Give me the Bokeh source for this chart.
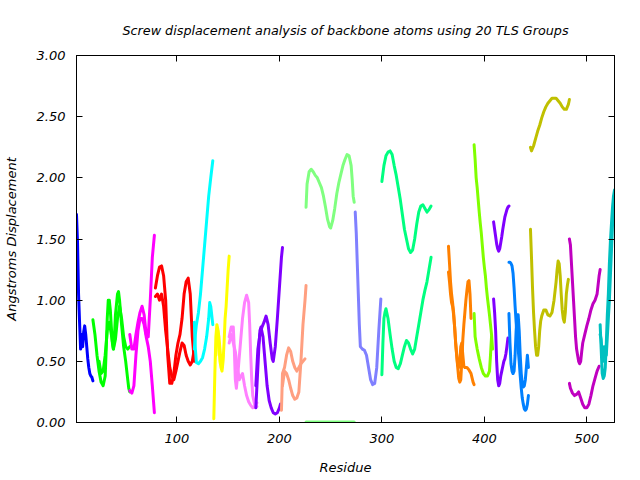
from bokeh.plotting import figure
from bokeh.models import Range1d, FixedTicker, PrintfTickFormatter, LinearAxis
from bokeh.embed import file_html
from bokeh.resources import INLINE

title_text = "Screw displacement analysis of backbone atoms using 20 TLS Groups"
x_label = "Residue"
y_label = "Angstroms Displacement"
x_ticks = [100, 200, 300, 400, 500]
y_ticks = [0.0, 0.5, 1.0, 1.5, 2.0, 2.5, 3.0]

# group 1 (blue)
g1_res = [2, 3, 4, 5, 6, 7, 8, 9, 10, 11, 12, 13, 14, 15, 16, 17, 18]
g1_val = [1.70, 1.47, 1.05, 0.82, 0.60, 0.72, 0.62, 0.74, 0.79, 0.72, 0.62, 0.52, 0.45, 0.40, 0.38, 0.37, 0.34]
# group 2 (green)
g2a_res = [18, 20, 22, 24, 26, 28, 30, 31, 32, 33, 34, 35, 36, 37, 38, 39, 40, 42, 43, 44, 46, 48, 50, 52, 53, 54]
g2a_val = [0.84, 0.72, 0.55, 0.42, 0.33, 0.30, 0.38, 0.60, 0.85, 1.00, 1.00, 0.92, 0.78, 0.65, 0.60, 0.70, 0.88, 1.05, 1.07, 1.00, 0.80, 0.62, 0.50, 0.35, 0.28, 0.25]
g2b_res = [24, 26, 28, 30, 32, 34, 36, 38, 40, 42, 44, 46, 48, 50, 52, 54]
g2b_val = [0.50, 0.40, 0.42, 0.55, 0.75, 0.82, 0.72, 0.60, 0.68, 0.85, 0.95, 0.85, 0.70, 0.62, 0.60, 0.62]
# group 3 (magenta)
g3a_res = [54, 56, 58, 60, 62, 64, 66, 68, 70, 72, 74, 76, 78]
g3a_val = [0.72, 0.60, 0.60, 0.72, 0.82, 0.90, 0.95, 0.88, 0.72, 0.70, 1.00, 1.35, 1.53]
g3b_res = [54, 56, 58, 60, 62, 64, 66, 68, 70, 72, 74, 76, 78]
g3b_val = [0.26, 0.24, 0.30, 0.55, 0.75, 0.85, 0.85, 0.80, 0.70, 0.62, 0.50, 0.30, 0.08]
# group 4 (red)
g4a_res = [79, 81, 83, 85, 87, 89, 91, 93, 95, 97, 99, 101, 103, 105, 107, 109, 111, 113, 115, 117]
g4a_val = [1.10, 1.20, 1.27, 1.28, 1.20, 1.00, 0.55, 0.32, 0.32, 0.40, 0.55, 0.65, 0.72, 0.85, 1.05, 1.15, 1.18, 1.05, 0.70, 0.50]
g4b_res = [79, 81, 83, 85, 87, 89, 91, 93, 95, 97, 99, 101, 103, 105, 107, 109, 111, 113, 115, 117]
g4b_val = [1.03, 1.05, 1.00, 1.05, 0.95, 0.75, 0.60, 0.45, 0.38, 0.35, 0.42, 0.50, 0.58, 0.65, 0.63, 0.55, 0.50, 0.47, 0.50, 0.60]
# group 5 (cyan)
g5a_res = [117, 118, 119, 121, 123, 125, 127, 129, 131, 132, 133, 135]
g5a_val = [0.82, 0.60, 0.49, 0.48, 0.50, 0.53, 0.60, 0.70, 0.85, 0.98, 0.95, 0.80]
g5b_res = [117, 118, 119, 121, 123, 125, 127, 129, 131, 133, 135]
g5b_val = [0.60, 0.72, 0.80, 0.90, 1.05, 1.25, 1.45, 1.65, 1.85, 2.00, 2.14]
# group 6 (yellow)
g6a_res = [136, 137, 138, 139, 140, 141, 142, 143, 144, 145, 146, 147, 148, 149, 150, 151]
g6a_val = [0.03, 0.40, 0.70, 0.80, 0.76, 0.62, 0.50, 0.45, 0.42, 0.50, 0.65, 0.85, 0.95, 1.10, 1.25, 1.36]
g6b_res = [138, 139, 140, 141, 142, 143, 144, 145]
g6b_val = [0.55, 0.70, 0.75, 0.70, 0.60, 0.50, 0.45, 0.55]
# group 7 (pink)
g7a_res = [151, 153, 155, 156, 157, 158, 160, 162, 164, 166, 168, 170, 171, 172, 173, 174, 176, 178]
g7a_val = [0.70, 0.78, 0.78, 0.60, 0.35, 0.28, 0.45, 0.65, 0.85, 0.98, 1.04, 0.98, 0.80, 0.55, 0.35, 0.22, 0.14, 0.13]
g7b_res = [151, 153, 155, 157, 159, 161, 162, 164, 166, 168, 170, 172, 174, 176, 178]
g7b_val = [0.65, 0.72, 0.65, 0.58, 0.45, 0.35, 0.37, 0.40, 0.30, 0.22, 0.17, 0.14, 0.12, 0.13, 0.16]
# group 8 (violet)
g8a_res = [177, 179, 180, 181, 182, 184, 186, 188, 190, 192, 194, 196, 198, 200, 201]
g8a_val = [0.12, 0.45, 0.62, 0.75, 0.78, 0.70, 0.50, 0.30, 0.18, 0.12, 0.08, 0.07, 0.08, 0.12, 0.15]
g8b_res = [177, 179, 181, 183, 185, 187, 189, 191, 193, 194, 196, 198, 200, 202, 203]
g8b_val = [0.30, 0.60, 0.72, 0.78, 0.82, 0.87, 0.80, 0.65, 0.52, 0.50, 0.62, 0.85, 1.10, 1.35, 1.43]
# group 9 (salmon)
g9a_res = [202, 203, 205, 207, 209, 211, 213, 215, 217, 219, 221, 223, 225]
g9a_val = [0.10, 0.40, 0.45, 0.55, 0.61, 0.58, 0.50, 0.45, 0.42, 0.45, 0.48, 0.50, 0.52]
g9b_res = [203, 205, 207, 209, 211, 213, 215, 217, 219, 221, 223, 225, 226]
g9b_val = [0.30, 0.42, 0.40, 0.35, 0.28, 0.22, 0.19, 0.20, 0.25, 0.50, 0.80, 1.00, 1.12]
# group 10 (light green)
g10a_res = [226, 227, 229, 231, 233, 235, 237, 239, 241, 243, 245, 247, 249, 250, 252, 254, 256, 258, 260, 262, 264, 266, 268, 270, 271, 272, 273]
g10a_val = [1.76, 1.95, 2.05, 2.07, 2.05, 2.02, 2.00, 1.96, 1.92, 1.85, 1.76, 1.66, 1.60, 1.59, 1.65, 1.75, 1.87, 1.96, 2.03, 2.10, 2.15, 2.19, 2.18, 2.10, 1.99, 1.85, 1.80]
g10b_res = [226, 235, 245, 255, 265, 273]
g10b_val = [0.005, 0.005, 0.005, 0.005, 0.005, 0.005]
# group 11 (periwinkle)
g11_res = [274, 275, 276, 277, 278, 279, 281, 283, 285, 287, 289, 291, 293, 295, 297, 299]
g11_val = [1.72, 1.55, 1.30, 1.05, 0.80, 0.62, 0.60, 0.59, 0.55, 0.45, 0.35, 0.31, 0.32, 0.45, 0.75, 1.01]
# group 12 (spring green)
g12a_res = [300, 302, 304, 306, 308, 310, 312, 314, 316, 318, 320, 322, 324, 326, 328, 330, 332, 334, 336, 338, 340, 342, 344, 346, 348]
g12a_val = [1.97, 2.10, 2.18, 2.21, 2.22, 2.19, 2.10, 2.02, 1.92, 1.82, 1.70, 1.58, 1.50, 1.42, 1.39, 1.41, 1.50, 1.62, 1.72, 1.77, 1.78, 1.75, 1.72, 1.74, 1.77]
g12b_res = [300, 301, 302, 303, 304, 306, 308, 310, 312, 314, 316, 318, 320, 322, 324, 326, 328, 330, 332, 334, 336, 338, 340, 342, 344, 346, 348]
g12b_val = [0.39, 0.65, 0.85, 0.90, 0.93, 0.85, 0.72, 0.60, 0.50, 0.45, 0.44, 0.48, 0.55, 0.62, 0.67, 0.65, 0.60, 0.56, 0.60, 0.70, 0.80, 0.90, 1.00, 1.08, 1.15, 1.25, 1.35]
# group 13 (orange)
g13a_res = [365, 366, 367, 368, 369, 370, 371, 372, 373, 374, 375, 376, 377, 378, 379, 380, 381, 382, 383, 384, 385, 386, 387]
g13a_val = [1.44, 1.30, 1.15, 1.05, 0.98, 0.90, 0.78, 0.65, 0.55, 0.45, 0.36, 0.33, 0.35, 0.50, 0.68, 0.80, 0.90, 1.00, 1.08, 1.15, 1.16, 1.05, 0.85]
g13b_res = [365, 366, 367, 368, 369, 370, 371, 372, 373, 374, 375, 376, 377, 378, 379, 380, 381, 383, 385, 387, 389, 390]
g13b_val = [1.23, 1.15, 1.05, 0.98, 0.95, 0.88, 0.78, 0.65, 0.55, 0.47, 0.45, 0.50, 0.62, 0.65, 0.55, 0.46, 0.45, 0.45, 0.43, 0.40, 0.33, 0.31]
# group 14 (chartreuse)
g14a_res = [390, 391, 392, 393, 394, 395, 396, 397, 398, 399, 400, 401, 402, 403, 404, 405, 406, 407, 408]
g14a_val = [2.27, 2.15, 2.00, 1.92, 1.82, 1.72, 1.63, 1.55, 1.45, 1.35, 1.27, 1.20, 1.10, 1.02, 0.95, 0.88, 0.80, 0.72, 0.60]
g14b_res = [390, 391, 392, 393, 395, 397, 399, 401, 403, 405, 406, 407]
g14b_val = [0.89, 0.70, 0.65, 0.60, 0.52, 0.45, 0.40, 0.38, 0.38, 0.42, 0.55, 0.70]
# group 15 (violet 2)
g15a_res = [409, 410, 411, 412, 413, 414, 415, 416, 417, 418, 419, 420, 421, 422, 423, 424]
g15a_val = [1.64, 1.58, 1.52, 1.46, 1.42, 1.40, 1.42, 1.47, 1.52, 1.58, 1.63, 1.68, 1.71, 1.74, 1.76, 1.77]
g15b_res = [409, 410, 411, 412, 413, 414, 415, 416, 417, 418, 419, 420, 421, 422, 423]
g15b_val = [1.01, 0.90, 0.75, 0.50, 0.35, 0.30, 0.32, 0.38, 0.42, 0.46, 0.50, 0.52, 0.56, 0.62, 0.69]
# group 16 (azure)
g16a_res = [424, 425, 426, 427, 428, 429, 430, 431, 432, 433, 434, 435, 436, 437, 438, 439, 440, 441, 442, 443]
g16a_val = [1.31, 1.31, 1.30, 1.28, 1.22, 1.10, 0.95, 0.82, 0.70, 0.60, 0.50, 0.38, 0.28, 0.20, 0.15, 0.11, 0.10, 0.11, 0.15, 0.22]
g16b_res = [424, 425, 426, 427, 428, 429, 430, 431, 432, 433, 434, 435, 436, 437, 438, 439, 440, 441, 442, 443]
g16b_val = [0.89, 0.65, 0.48, 0.42, 0.40, 0.42, 0.55, 0.75, 0.88, 0.88, 0.75, 0.55, 0.40, 0.32, 0.29, 0.30, 0.35, 0.45, 0.55, 0.45]
# group 17 (olive)
g17a_res = [445, 446, 448, 450, 452, 454, 456, 458, 460, 462, 464, 466, 468, 470, 472, 474, 476, 478, 480, 482, 483]
g17a_val = [2.25, 2.22, 2.26, 2.32, 2.38, 2.43, 2.49, 2.54, 2.58, 2.61, 2.63, 2.65, 2.65, 2.65, 2.63, 2.61, 2.58, 2.56, 2.56, 2.60, 2.64]
g17b_res = [445, 446, 447, 448, 449, 450, 451, 452, 453, 454, 455, 456, 458, 460, 462, 464, 466, 468, 470, 471, 472, 473, 474, 475, 476, 477, 478, 479, 480, 481, 482]
g17b_val = [1.58, 1.35, 1.10, 0.90, 0.75, 0.62, 0.55, 0.55, 0.62, 0.75, 0.83, 0.87, 0.92, 0.92, 0.88, 0.87, 0.90, 1.00, 1.15, 1.25, 1.32, 1.30, 1.20, 1.05, 0.92, 0.85, 0.82, 0.90, 1.05, 1.12, 1.17]
# group 18 (purple)
g18a_res = [483, 484, 485, 486, 487, 488, 489, 490, 491, 492, 493, 494, 495, 496, 498, 500, 502, 504, 506, 508, 510, 512, 513]
g18a_val = [1.50, 1.45, 1.30, 1.15, 1.00, 0.85, 0.70, 0.60, 0.55, 0.50, 0.48, 0.50, 0.58, 0.65, 0.72, 0.79, 0.85, 0.92, 0.97, 1.00, 1.05, 1.20, 1.25]
g18b_res = [483, 484, 486, 488, 490, 492, 494, 496, 498, 500, 502, 504, 506, 508, 510, 512]
g18b_val = [0.32, 0.28, 0.24, 0.22, 0.23, 0.25, 0.20, 0.15, 0.12, 0.12, 0.15, 0.22, 0.30, 0.36, 0.42, 0.46]
# group 19 (teal)
g19a_res = [513, 514, 515, 516, 517, 518, 519, 520, 521, 522, 523, 524, 525, 526, 527]
g19a_val = [0.80, 0.60, 0.40, 0.36, 0.38, 0.45, 0.65, 0.88, 1.05, 1.30, 1.48, 1.62, 1.75, 1.85, 1.90]
g19b_res = [513, 514, 515, 516, 517, 518, 519, 520, 521, 522, 523, 524, 525, 526]
g19b_val = [0.72, 0.68, 0.55, 0.50, 0.62, 0.60, 0.55, 0.70, 0.85, 1.00, 1.20, 1.40, 1.60, 1.80]

series = [
    ("#0000ff", g1_res, g1_val),
    ("#00ff00", g2a_res, g2a_val), ("#00ff00", g2b_res, g2b_val),
    ("#ff00ff", g3a_res, g3a_val), ("#ff00ff", g3b_res, g3b_val),
    ("#ff0000", g4a_res, g4a_val), ("#ff0000", g4b_res, g4b_val),
    ("#00ffff", g5a_res, g5a_val), ("#00ffff", g5b_res, g5b_val),
    ("#ffff00", g6a_res, g6a_val), ("#ffff00", g6b_res, g6b_val),
    ("#ff80ff", g7a_res, g7a_val), ("#ff80ff", g7b_res, g7b_val),
    ("#8000ff", g8a_res, g8a_val), ("#8000ff", g8b_res, g8b_val),
    ("#ff9f80", g9a_res, g9a_val), ("#ff9f80", g9b_res, g9b_val),
    ("#80ff80", g10a_res, g10a_val), ("#80ff80", g10b_res, g10b_val),
    ("#8080ff", g11_res, g11_val),
    ("#00ff80", g12a_res, g12a_val), ("#00ff80", g12b_res, g12b_val),
    ("#ff8000", g13a_res, g13a_val), ("#ff8000", g13b_res, g13b_val),
    ("#80ff00", g14a_res, g14a_val), ("#80ff00", g14b_res, g14b_val),
    ("#8000ff", g15a_res, g15a_val), ("#8000ff", g15b_res, g15b_val),
    ("#0080ff", g16a_res, g16a_val), ("#0080ff", g16b_res, g16b_val),
    ("#c0c000", g17a_res, g17a_val), ("#c0c000", g17b_res, g17b_val),
    ("#c000c0", g18a_res, g18a_val), ("#c000c0", g18b_res, g18b_val),
    ("#00c0c0", g19a_res, g19a_val), ("#00c0c0", g19b_res, g19b_val),
]

FONT = "DejaVu Sans"
FS = "13px"

p = figure(width=640, height=480, output_backend="svg", toolbar_location=None,
           x_range=Range1d(2, 527), y_range=Range1d(0, 3),
           min_border_left=76, min_border_right=26, min_border_top=55, min_border_bottom=58,
           background_fill_color="white", border_fill_color="white",
           title=title_text)
p.title.align = "center"
p.title.text_font = FONT
p.title.text_font_style = "italic"
p.title.text_font_size = "12.75px"
p.title.text_color = "black"
p.title.standoff = 36
p.grid.visible = False
p.outline_line_color = "black"
p.outline_line_width = 1

for color, xs, ys in series:
    p.line(xs, ys, line_color=color, line_width=3, line_join="round", line_cap="round")

def style_axis(ax, show_labels):
    ax.axis_line_color = "black"
    ax.major_tick_line_color = "black"
    ax.major_tick_in = 6
    ax.major_tick_out = 0
    ax.minor_tick_line_color = None
    ax.major_label_text_font = FONT
    ax.major_label_text_font_style = "italic"
    ax.major_label_text_font_size = FS
    ax.major_label_text_color = "black" if show_labels else None
    ax.axis_label_text_font = FONT
    ax.axis_label_text_font_style = "italic"
    ax.axis_label_text_font_size = FS
    ax.axis_label_text_color = "black"

p.xaxis.ticker = FixedTicker(ticks=x_ticks)
p.yaxis.ticker = FixedTicker(ticks=y_ticks)
p.yaxis.formatter = PrintfTickFormatter(format="%.2f")
style_axis(p.xaxis[0], True)
style_axis(p.yaxis[0], True)
p.xaxis.axis_label = x_label
p.yaxis.axis_label = y_label
p.yaxis.major_label_standoff = 11
p.yaxis.axis_label_standoff = 15
p.xaxis.major_label_standoff = 11
p.xaxis.axis_label_standoff = 14

ax_r = LinearAxis(ticker=FixedTicker(ticks=y_ticks))
style_axis(ax_r, False)
ax_r.major_label_standoff = 0
p.add_layout(ax_r, "right")
ax_t = LinearAxis(ticker=FixedTicker(ticks=x_ticks))
style_axis(ax_t, False)
ax_t.major_label_standoff = 0
p.add_layout(ax_t, "above")

open("out.html", "w").write(file_html(p, INLINE))
